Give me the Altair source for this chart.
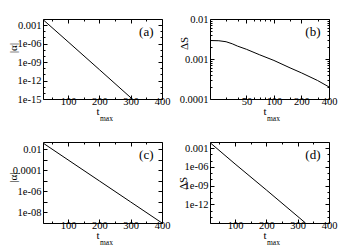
import math
import altair as alt
import pandas as pd

FONT = "Liberation Serif"

# ---------------- data ----------------
a_t = [20, 100, 200, 305]
a_val = [8e-3, 2e-6, 6e-11, 1e-15]

b_t = [20, 25, 30, 35, 40, 50, 70, 100, 150, 200, 300, 400]
b_val = [0.0029, 0.00286, 0.0027, 0.0024, 0.0021, 0.00175, 0.00127,
         0.00092, 0.0006, 0.00045, 0.00029, 0.0002]

c_t = [20, 100, 200, 300, 400]
c_val = [4e-2, 1e-3, 1e-5, 1e-7, 1e-9]

d_t = [20, 100, 200, 325]
d_val = [8e-3, 3e-6, 2e-10, 1e-15]

# ---------------- ticks / labels ----------------
lin_x_major = [100, 200, 300, 400]
lin_x_minor = [50, 150, 250, 350]
log_x_major = [50, 100, 200, 400]
log_x_minor = [30, 40, 60, 70, 80, 90, 150, 300]

a_y_labels = [1e-3, 1e-6, 1e-9, 1e-12, 1e-15]
a_y_text = ["0.001", "1e-06", "1e-09", "1e-12", "1e-15"]
a_y_minor = [1e-4, 1e-5, 1e-7, 1e-8, 1e-10, 1e-11, 1e-13, 1e-14]

b_y_labels = [1e-2, 1e-3, 1e-4]
b_y_text = ["0.01", "0.001", "0.0001"]
b_y_minor = [2e-4, 3e-4, 4e-4, 5e-4, 6e-4, 7e-4, 8e-4, 9e-4,
             2e-3, 3e-3, 4e-3, 5e-3, 6e-3, 7e-3, 8e-3, 9e-3]

c_y_labels = [1e-2, 1e-4, 1e-6, 1e-8]
c_y_text = ["0.01", "0.0001", "1e-06", "1e-08"]
c_y_ticks = [1e-2, 1e-3, 1e-4, 1e-5, 1e-6, 1e-7, 1e-8, 1e-9]

d_y_labels = [1e-3, 1e-6, 1e-9, 1e-12]
d_y_text = ["0.001", "1e-06", "1e-09", "1e-12"]
d_y_ticks = [1e-3, 1e-6, 1e-9, 1e-12, 1e-15]
d_y_minor = [1e-4, 1e-5, 1e-7, 1e-8, 1e-10, 1e-11, 1e-13, 1e-14]

X_TITLE_MAIN = "t"
X_TITLE_SUB = "max"
LABEL_SIZE = 10.5
TITLE_SIZE = 11
SUB_SIZE = 7.5
LETTER_SIZE = 13
MAJOR, MINOR = 4, 2

# whole drawing area and the pixel box of every panel (x0, x1, top, bottom)
W, H = 333, 238
GEOM = {
    "a": (35, 154, 11, 91),
    "b": (202, 321, 11, 91),
    "c": (35, 154, 134, 215),
    "d": (202, 321, 134, 215),
}

TXT = dict(titleFont=FONT, titleFontWeight="normal", titleColor="black")


def log_label_expr(vals, texts):
    expr = "''"
    for v, t in reversed(list(zip(vals, texts))):
        e = round(math.log10(v))
        expr = f"round(log(datum.value)/LN10)=={e} ? '{t}' : ({expr})"
    return expr


def tick_axis(orient, values, size, edge, **extra):
    if orient == "bottom":
        off = edge - size - H
    elif orient == "top":
        off = -(edge + size)
    elif orient == "left":
        off = -(edge + size)
    else:
        off = edge - size - W
    if "title" not in extra:
        extra["title"] = None
    return alt.Axis(orient=orient, values=values, labels=False, domain=False,
                    grid=False, ticks=True, tickSize=size, tickWidth=1,
                    tickColor="black", offset=off, **extra)


def panel(key, t, v, xtype, x_lab, x_minor, ydom, y_lab, y_txt, y_ticks,
          y_minor, y_title, ytitle_x, ytitle_y, letter):
    x0, x1, y0, y1 = GEOM[key]
    xc = (x0 + x1) / 2
    df = pd.DataFrame({"t": t, "v": v})
    if xtype == "log":
        xs = alt.Scale(type="log", domain=[20, 400], range=[x0, x1], nice=False)
    else:
        xs = alt.Scale(type="linear", domain=[20, 400], range=[x0, x1],
                       nice=False, zero=False)
    ys = alt.Scale(type="log", domain=ydom, range=[y1, y0], nice=False)

    def layer(xaxis, yaxis, visible=False):
        return alt.Chart(df).mark_line(
            color="black", strokeWidth=1, opacity=1 if visible else 0
        ).encode(
            x=alt.X("t:Q", scale=xs, axis=xaxis),
            y=alt.Y("v:Q", scale=ys, axis=yaxis),
        )

    main = layer(
        alt.Axis(orient="bottom", offset=y1 - H, values=x_lab, format="d",
                 ticks=False, tickSize=0, domain=True, domainColor="black",
                 domainWidth=1, grid=False, labelPadding=5,
                 labelBaseline="alphabetic", labelFlush=False,
                 labelOverlap=False, labelFont=FONT, labelFontSize=LABEL_SIZE,
                 labelColor="black", title=X_TITLE_MAIN, titleX=xc - 5,
                 titleY=15, titleAlign="center", titleBaseline="alphabetic",
                 titleFontSize=TITLE_SIZE, **TXT),
        alt.Axis(orient="left", offset=-x0, values=y_lab,
                 labelExpr=log_label_expr(y_lab, y_txt), ticks=False,
                 tickSize=0, domain=True, domainColor="black", domainWidth=1,
                 grid=False, labelPadding=2, labelFlush=False,
                 labelOverlap=False, labelFont=FONT, labelFontSize=LABEL_SIZE,
                 labelColor="black", title=y_title, titleX=ytitle_x,
                 titleY=ytitle_y, titleAngle=270, titleAlign="center",
                 titleBaseline="alphabetic", titleFontSize=TITLE_SIZE, **TXT),
        visible=True,
    )
    frame = layer(
        alt.Axis(orient="top", offset=-y0, values=[], labels=False,
                 ticks=False, domain=True, domainColor="black", domainWidth=1,
                 grid=False, title=letter, titleX=x1 - 9, titleY=16,
                 titleAngle=0, titleAlign="right", titleBaseline="alphabetic",
                 titleFontSize=LETTER_SIZE, **TXT),
        alt.Axis(orient="right", offset=x1 - W, values=[], labels=False,
                 ticks=False, domain=True, domainColor="black", domainWidth=1,
                 grid=False, title=None),
    )
    return [
        main,
        frame,
        layer(tick_axis("bottom", x_lab, MAJOR, y1, title=X_TITLE_SUB,
                        titleX=xc - 3, titleY=21 + MAJOR, titleAlign="left",
                        titleBaseline="alphabetic", titleFontSize=SUB_SIZE,
                        **TXT),
              tick_axis("left", y_ticks, MAJOR, x0)),
        layer(tick_axis("top", x_lab, MAJOR, y0),
              tick_axis("right", y_ticks, MAJOR, x1)),
        layer(tick_axis("bottom", x_minor, MINOR, y1),
              tick_axis("left", y_minor, MINOR, x0)),
        layer(tick_axis("top", x_minor, MINOR, y0),
              tick_axis("right", y_minor, MINOR, x1)),
    ]


layers = []
layers += panel("a", a_t, a_val, "linear", lin_x_major, lin_x_minor,
                [1e-15, 1e-2], a_y_labels, a_y_text, a_y_labels, a_y_minor,
                "|\u03b1|", -27, 39.5, "(a)")
layers += panel("b", b_t, b_val, "log", log_x_major, log_x_minor,
                [1e-4, 1e-2], b_y_labels, b_y_text, b_y_labels, b_y_minor,
                "\u0394S", -23, 35, "(b)")
layers += panel("c", c_t, c_val, "linear", lin_x_major, lin_x_minor,
                [1e-9, 5e-2], c_y_labels, c_y_text, c_y_ticks, [],
                "|\u03b1|", -27, 169, "(c)")
layers += panel("d", d_t, d_val, "linear", lin_x_major, lin_x_minor,
                [1e-15, 1e-2], d_y_labels, d_y_text, d_y_ticks, d_y_minor,
                "\u0394S", -24, 175, "(d)")

chart = alt.layer(*layers).resolve_scale(
    x="independent", y="independent"
).resolve_axis(
    x="independent", y="independent"
).properties(
    width=W, height=H, padding=0,
    autosize=alt.AutoSizeParams(type="none"),
    background="white",
).configure_view(stroke="transparent")

chart.save("out.html", embed_options={"renderer": "svg", "actions": False})
